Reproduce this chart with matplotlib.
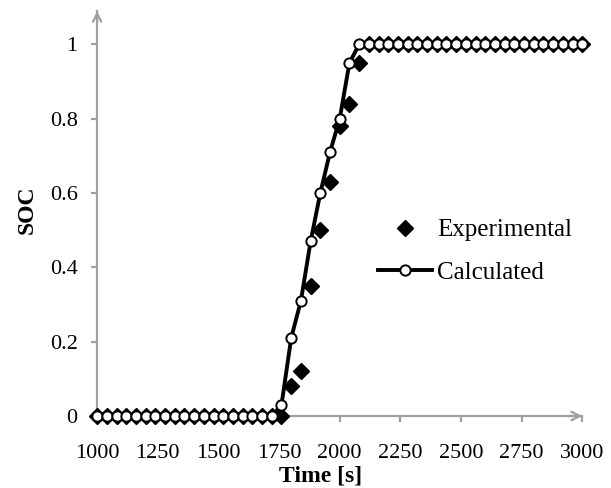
import matplotlib
matplotlib.use("Agg")
import matplotlib.pyplot as plt

plt.rcParams['font.family'] = ['Liberation Serif', 'DejaVu Serif']

# time grid [s]
time = [1000, 1040, 1080, 1120, 1160, 1200, 1240, 1280, 1320, 1360,
        1400, 1440, 1480, 1520, 1560, 1600, 1640, 1680, 1720, 1760,
        1800, 1840, 1880, 1920, 1960, 2000, 2040, 2080, 2120, 2160,
        2200, 2240, 2280, 2320, 2360, 2400, 2440, 2480, 2520, 2560,
        2600, 2640, 2680, 2720, 2760, 2800, 2840, 2880, 2920, 2960, 3000]

soc_exp = ([0.0] * 20
           + [0.08, 0.12, 0.35, 0.50, 0.63, 0.78, 0.84, 0.95]
           + [1.0] * 23)

soc_calc = ([0.0] * 19
            + [0.03, 0.21, 0.31, 0.47, 0.60, 0.71, 0.80, 0.95, 1.0]
            + [1.0] * 23)

xticks = [1000, 1250, 1500, 1750, 2000, 2250, 2500, 2750, 3000]
yticks = [0, 0.2, 0.4, 0.6, 0.8, 1]
ytick_labels = ['0', '0.2', '0.4', '0.6', '0.8', '1']

gray = '#a0a0a0'

fig = plt.figure(figsize=(6.11, 4.88), dpi=100)
ax = fig.add_axes([0.159, 0.1475, 0.794, 0.83])

ax.plot(time, soc_exp, linestyle='none', marker='D', markersize=8.5,
        color='black', label='Experimental', clip_on=False, zorder=3)
ax.plot(time, soc_calc, color='black', linewidth=2.8, marker='o',
        markersize=7.4, markerfacecolor='white', markeredgecolor='black',
        markeredgewidth=1.4, label='Calculated', clip_on=False, zorder=4)

ax.set_xlim(1000, 3000)
ax.set_ylim(0, 1.09)
ax.set_xticks(xticks)
ax.set_yticks(yticks)
ax.set_yticklabels(ytick_labels)

for s in ['top', 'right']:
    ax.spines[s].set_visible(False)
for s in ['left', 'bottom']:
    ax.spines[s].set_color(gray)
    ax.spines[s].set_linewidth(1.6)
ax.tick_params(axis='both', colors=gray, labelcolor='black', labelsize=16,
               length=4, width=1.6, direction='out')
ax.tick_params(axis='x', pad=16)
ax.tick_params(axis='y', pad=10)

# arrow heads on the axes
ax.annotate('', xy=(1.0, 0), xytext=(0.97, 0), xycoords='axes fraction',
            arrowprops=dict(arrowstyle='->,head_length=0.6,head_width=0.3',
                            color=gray, lw=1.6, shrinkA=0, shrinkB=0))
ax.annotate('', xy=(0, 1.0), xytext=(0, 0.97), xycoords='axes fraction',
            arrowprops=dict(arrowstyle='->,head_length=0.6,head_width=0.3',
                            color=gray, lw=1.6, shrinkA=0, shrinkB=0))

ax.set_xlabel('Time [s]', fontsize=17, fontweight='bold')
ax.set_ylabel('SOC', fontsize=17, fontweight='bold')
ax.xaxis.set_label_coords(0.46, -0.122)
ax.yaxis.set_label_coords(-0.122, 0.51)

ax.legend(loc='upper left', bbox_to_anchor=(0.533, 0.542), frameon=False,
          fontsize=18, handlelength=2.16, handletextpad=0.2, labelspacing=0.8)

fig.savefig('out.png', dpi=100)
